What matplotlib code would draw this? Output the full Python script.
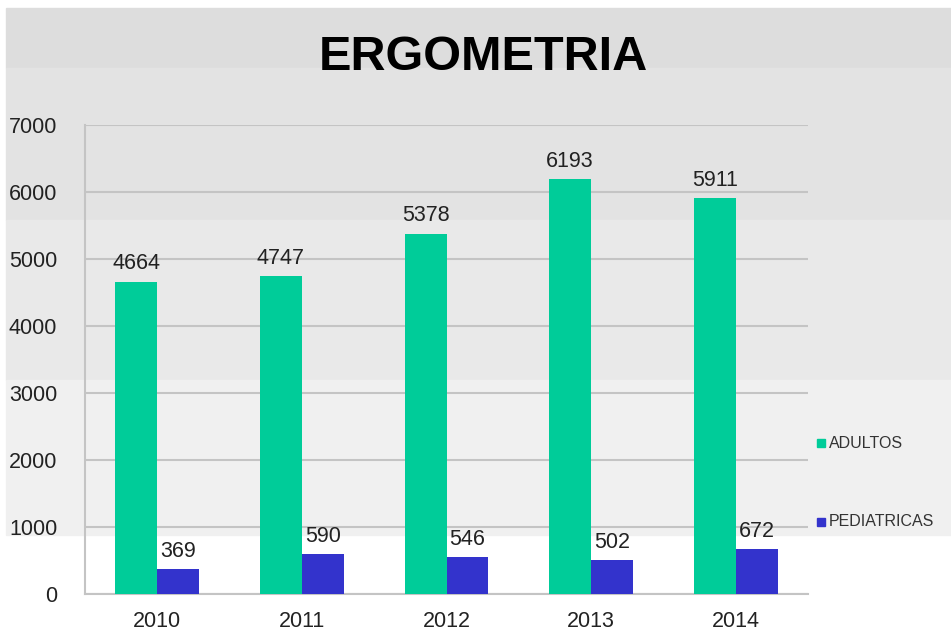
import matplotlib.pyplot as plt
import matplotlib.patches as mpatches
import numpy as np

anios = ["2010", "2011", "2012", "2013", "2014"]
adultos = [4664, 4747, 5378, 6193, 5911]
pediatricas = [369, 590, 546, 502, 672]

plt.rcParams['font.family'] = ['Liberation Sans', 'DejaVu Sans']

fig = plt.figure(figsize=(9.51, 6.35), dpi=100)
fig.patch.set_facecolor('white')

# fondo en franjas grises (de arriba hacia abajo)
franjas = [(8, 68, '#dddddd'), (68, 220, '#e3e3e3'), (220, 380, '#e9e9e9'),
           (380, 535, '#f0f0f0')]
for y0, y1, c in franjas:
    fig.patches.append(mpatches.Rectangle((6 / 951, 1 - y1 / 635), 1, (y1 - y0) / 635,
                                          transform=fig.transFigure, color=c, zorder=-5))

ax = fig.add_axes([85 / 951, 1 - 594 / 635, 723 / 951, 469 / 635])
ax.set_facecolor('none')

x = np.arange(len(anios))
w = 0.29
b1 = ax.bar(x - w / 2, adultos, w, color='#00cc99', label='ADULTOS', zorder=3)
b2 = ax.bar(x + w / 2, pediatricas, w, color='#3333cc', label='PEDIATRICAS', zorder=3)

for rect, v in zip(b1, adultos):
    ax.text(rect.get_x() + rect.get_width() / 2, v + 110, str(v), ha='center', va='bottom',
            fontsize=15.5, color='#222222')
for rect, v in zip(b2, pediatricas):
    ax.text(rect.get_x() + rect.get_width() / 2, v + 110, str(v), ha='center', va='bottom',
            fontsize=15.5, color='#222222')

ax.set_xlim(-0.5, len(anios) - 0.5)
ax.set_ylim(0, 7000)
ax.set_yticks(range(0, 7001, 1000))
ax.set_xticks(x)
ax.set_xticklabels(anios)
ax.tick_params(axis='both', length=0, labelsize=15.5, colors='#222222')
ax.tick_params(axis='y', pad=20)
ax.tick_params(axis='x', pad=12)
ax.grid(axis='y', color='#c4c4c4', linewidth=1.5, zorder=0)
for s in ['top', 'right']:
    ax.spines[s].set_visible(False)
for s in ['left', 'bottom']:
    ax.spines[s].set_color('#c4c4c4')
    ax.spines[s].set_linewidth(1.5)

fig.text(483 / 951, 1 - 58 / 635, 'ERGOMETRIA', ha='center', va='center',
         fontsize=35, fontweight='bold', color='black')

# leyenda
for txt, col, yy in [('ADULTOS', '#00cc99', 443), ('PEDIATRICAS', '#3333cc', 522)]:
    fig.patches.append(mpatches.Rectangle((817 / 951, 1 - (yy + 4) / 635), 8 / 951, 8 / 635,
                                          transform=fig.transFigure, color=col, zorder=3))
    fig.text(829 / 951, 1 - yy / 635, txt, ha='left', va='center', fontsize=11.5, color='#333333')

fig.savefig('out.png', dpi=100, facecolor=fig.get_facecolor())
